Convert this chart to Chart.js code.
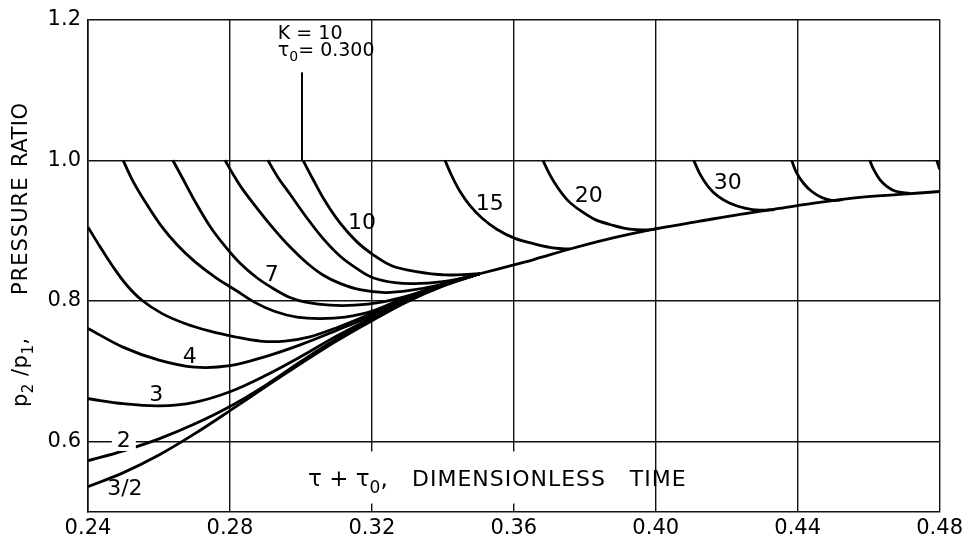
<!DOCTYPE html>
<html>
<head>
<meta charset="utf-8">
<script src="https://cdn.jsdelivr.net/npm/chart.js@4.4.1/dist/chart.umd.min.js"></script>
<style>
  html, body { margin: 0; padding: 0; background: #fff; }
  #wrap { width: 967px; height: 544px; }
</style>
</head>
<body>
<div id="wrap"><canvas id="chart"></canvas></div>
<script>
// axis ticks
const xTicks = [0.24, 0.28, 0.32, 0.36, 0.40, 0.44, 0.48];
const xTickLabels = ["0.24", "0.28", "0.32", "0.36", "0.40", "0.44", "0.48"];
const yTicks = [0.6, 0.8, 1.0, 1.2];
const yTickLabels = ["0.6", "0.8", "1.0", "1.2"];

// curves, [tau + tau0, p2/p1]
const k3_2 = [[0.240,0.536],[0.250,0.556],[0.260,0.581],[0.270,0.611],[0.280,0.644],[0.290,0.678],[0.300,0.711],[0.310,0.743],[0.320,0.772],[0.330,0.799],[0.340,0.821],[0.3504,0.8387]];
const k2 = [[0.240,0.573],[0.250,0.587],[0.260,0.604],[0.270,0.625],[0.280,0.650],[0.290,0.680],[0.300,0.714],[0.310,0.746],[0.320,0.774],[0.330,0.800],[0.340,0.822],[0.3504,0.8387]];
const k3 = [[0.240,0.661],[0.250,0.654],[0.260,0.651],[0.270,0.656],[0.280,0.671],[0.290,0.694],[0.300,0.721],[0.310,0.750],[0.320,0.776],[0.330,0.801],[0.340,0.823],[0.3504,0.8387]];
const k4 = [[0.240,0.761],[0.250,0.734],[0.260,0.716],[0.270,0.706],[0.280,0.708],[0.290,0.721],[0.300,0.738],[0.310,0.758],[0.320,0.779],[0.330,0.803],[0.340,0.824],[0.3504,0.8387]];
const k5 = [[0.240,0.905],[0.2434,0.877],[0.2470,0.849],[0.2510,0.822],[0.2552,0.801],[0.2609,0.782],[0.2673,0.768],[0.2744,0.757],[0.2814,0.749],[0.2885,0.743],[0.2955,0.743],[0.3025,0.749],[0.3101,0.762],[0.3194,0.781],[0.3307,0.805],[0.3406,0.825],[0.3504,0.8387]];
const k6 = [[0.2499,1.000],[0.2527,0.970],[0.2561,0.941],[0.2603,0.909],[0.2651,0.880],[0.2701,0.856],[0.2758,0.834],[0.2814,0.816],[0.2870,0.798],[0.2927,0.785],[0.2989,0.777],[0.3054,0.775],[0.3124,0.777],[0.3203,0.786],[0.3299,0.806],[0.3392,0.822],[0.3504,0.8387]];
const k7 = [[0.2639,1.000],[0.2668,0.973],[0.2701,0.942],[0.2744,0.906],[0.2786,0.878],[0.2828,0.854],[0.2876,0.833],[0.2921,0.818],[0.2969,0.805],[0.3017,0.798],[0.3082,0.794],[0.3152,0.794],[0.3223,0.798],[0.3307,0.808],[0.3392,0.822],[0.3504,0.8387]];
const k8 = [[0.2786,1.000],[0.2809,0.980],[0.2834,0.960],[0.2876,0.932],[0.2921,0.904],[0.2969,0.877],[0.3017,0.854],[0.3062,0.837],[0.3110,0.825],[0.3166,0.816],[0.3237,0.812],[0.3307,0.815],[0.3392,0.823],[0.3504,0.8387]];
const k9 = [[0.2907,1.000],[0.2935,0.976],[0.2969,0.952],[0.3017,0.918],[0.3062,0.889],[0.3110,0.864],[0.3158,0.846],[0.3203,0.833],[0.3265,0.826],[0.3335,0.825],[0.3420,0.829],[0.3504,0.8387]];
const k10 = [[0.3006,1.000],[0.3034,0.973],[0.3068,0.942],[0.3110,0.911],[0.3158,0.884],[0.3203,0.866],[0.3256,0.850],[0.3321,0.842],[0.3406,0.837],[0.3504,0.8387]];
const k15 = [[0.3406,1.000],[0.3425,0.978],[0.3448,0.956],[0.3476,0.936],[0.3510,0.918],[0.3552,0.902],[0.3603,0.889],[0.3659,0.881],[0.3716,0.875],[0.3758,0.874]];
const k20 = [[0.3682,1.000],[0.3701,0.980],[0.3724,0.961],[0.3752,0.943],[0.3786,0.929],[0.3828,0.916],[0.3876,0.908],[0.3927,0.902],[0.3978,0.901],[0.4011,0.9035]];
const k30 = [[0.4107,1.000],[0.4124,0.981],[0.4147,0.963],[0.4175,0.949],[0.4209,0.939],[0.4251,0.932],[0.4293,0.929],[0.4335,0.930]];
const kA = [[0.4383,1.000],[0.4397,0.982],[0.4417,0.967],[0.4439,0.956],[0.4468,0.947],[0.4496,0.943],[0.4527,0.944]];
const kB = [[0.4603,1.000],[0.4614,0.987],[0.4631,0.973],[0.4651,0.963],[0.4676,0.956],[0.4716,0.953]];
const kC = [[0.4792,1.000],[0.4800,0.987]];
const envelope = [[0.3504,0.8387],[0.3600,0.8514],[0.3654,0.8585],[0.3758,0.8739],[0.3842,0.8852],[0.3927,0.8951],[0.4011,0.9035],[0.4124,0.9134],[0.4237,0.9232],[0.4349,0.9317],[0.4462,0.9401],[0.4575,0.9472],[0.4687,0.9514],[0.4800,0.9556]];

const curves = [k3_2, k2, k3, k4, k5, k6, k7, k8, k9, k10, k15, k20, k30, kA, kB, kC, envelope];
const curveNames = ["3/2", "2", "3", "4", "5", "6", "7", "8", "9", "10", "15", "20", "30", "", "", "", "envelope"];

// curve tags written on the plot
const tagText = ["3/2", "2", "3", "4", "7", "10", "15", "20", "30"];
const tagX = [0.2504, 0.2501, 0.2592, 0.2687, 0.2918, 0.3172, 0.3532, 0.3811, 0.4203];
const tagY = [0.532, 0.601, 0.666, 0.720, 0.836, 0.911, 0.937, 0.949, 0.967];

const FONT = "'DejaVu Sans', 'Liberation Sans', sans-serif";

// text with subscripts: runs of [text, isSub]
function drawRuns(ctx, runs, x, y, size, spacing) {
  let cx = x;
  runs.forEach(([t, sub]) => {
    const s = sub ? Math.round(size * 0.72) : size;
    ctx.font = s + "px " + FONT;
    if ("letterSpacing" in ctx) ctx.letterSpacing = (spacing || 0) + "px";
    ctx.fillText(t, cx, y + (sub ? size * 0.3 : 0));
    cx += ctx.measureText(t).width;
  });
  return cx;
}

const annotations = {
  id: "annotations",
  afterDatasetsDraw(chart) {
    const { ctx, scales: { x, y } } = chart;
    ctx.save();
    ctx.fillStyle = "#000";
    ctx.strokeStyle = "#000";

    // gap in the grid under the x title
    ctx.fillStyle = "#fff";
    ctx.fillRect(x.getPixelForValue(0.301), y.getPixelForValue(0.586), x.getPixelForValue(0.395) - x.getPixelForValue(0.301), y.getPixelForValue(0.512) - y.getPixelForValue(0.586));
    ctx.fillStyle = "#000";

    // curve tags
    ctx.font = "22px " + FONT;
    ctx.textAlign = "center";
    ctx.textBaseline = "middle";
    tagText.forEach((t, i) => {
      const px = x.getPixelForValue(tagX[i]);
      const py = y.getPixelForValue(tagY[i]);
      if (t === "2") {
        const w = ctx.measureText(t).width;
        ctx.fillStyle = "#fff";
        ctx.fillRect(px - w / 2 - 5, py - 10, w + 10, 20);
        ctx.fillStyle = "#000";
      }
      ctx.fillText(t, px, py);
    });

    // K and tau0 note with pointer
    ctx.textAlign = "left";
    ctx.textBaseline = "alphabetic";
    ctx.font = "19px " + FONT;
    ctx.fillText("K = 10", x.getPixelForValue(0.2935), y.getPixelForValue(1.1725));
    drawRuns(ctx, [["τ", 0], ["0", 1], ["= 0.300", 0]], x.getPixelForValue(0.2935), y.getPixelForValue(1.1486), 19);
    ctx.lineWidth = 2;
    ctx.beginPath();
    ctx.moveTo(x.getPixelForValue(0.3003), y.getPixelForValue(1.125));
    ctx.lineTo(x.getPixelForValue(0.3003), y.getPixelForValue(1.0));
    ctx.stroke();

    // x title, inside the plot
    const by = y.getPixelForValue(0.5373);
    drawRuns(ctx, [["τ + τ", 0], ["0", 1], [",", 0]], x.getPixelForValue(0.302), by, 23);
    ctx.font = "22px " + FONT;
    if ("letterSpacing" in ctx) ctx.letterSpacing = "1px";
    ctx.fillText("DIMENSIONLESS", x.getPixelForValue(0.3313), by);
    ctx.fillText("TIME", x.getPixelForValue(0.3927), by);

    // y title, rotated
    ctx.translate(27, 0);
    ctx.rotate(-Math.PI / 2);
    drawRuns(ctx, [["p", 0], ["2", 1], [" /p", 0], ["1", 1], [",", 0]], -407, 0, 21, 0.5);
    drawRuns(ctx, [["PRESSURE", 0]], -295, 0, 21, 1);
    drawRuns(ctx, [["RATIO", 0]], -167, 0, 21, 0.5);
    ctx.restore();
  }
};

new Chart(document.getElementById("chart"), {
  type: "scatter",
  data: {
    datasets: curves.map((pts, i) => ({
      label: curveNames[i],
      data: pts.map(p => ({ x: p[0], y: p[1] })),
      showLine: true,
      borderColor: "#000",
      borderWidth: 2.8,
      pointRadius: 0,
      tension: 0.35,
      fill: false,
    })),
  },
  options: {
    responsive: true,
    maintainAspectRatio: false,
    animation: false,
    layout: { padding: { top: 16, right: 27, left: 0, bottom: 0 } },
    scales: {
      x: {
        type: "linear",
        min: 0.24,
        max: 0.48,
        afterBuildTicks: (s) => { s.ticks = xTicks.map(v => ({ value: v })); },
        afterFit: (s) => { s.height = 32; },
        grid: { color: "#111", lineWidth: 1.4, drawTicks: false },
        border: { display: true, color: "#111", width: 1.6 },
        ticks: {
          padding: 4,
          color: "#000",
          font: { family: FONT, size: 21 },
          maxRotation: 0,
          callback: (v, i) => xTickLabels[i],
        },
      },
      y: {
        type: "linear",
        min: 0.5,
        max: 1.2,
        afterBuildTicks: (s) => { s.ticks = yTicks.map(v => ({ value: v })); },
        afterFit: (s) => { s.width = 88; },
        grid: { color: "#111", lineWidth: 1.4, drawTicks: false },
        border: { display: true, color: "#111", width: 1.6 },
        ticks: {
          padding: 7,
          color: "#000",
          font: { family: FONT, size: 21 },
          callback: (v, i) => yTickLabels[i],
        },
      },
    },
    plugins: {
      legend: { display: false },
      title: { display: false },
      tooltip: { enabled: false },
    },
  },
  plugins: [annotations],
});
</script>
</body>
</html>
